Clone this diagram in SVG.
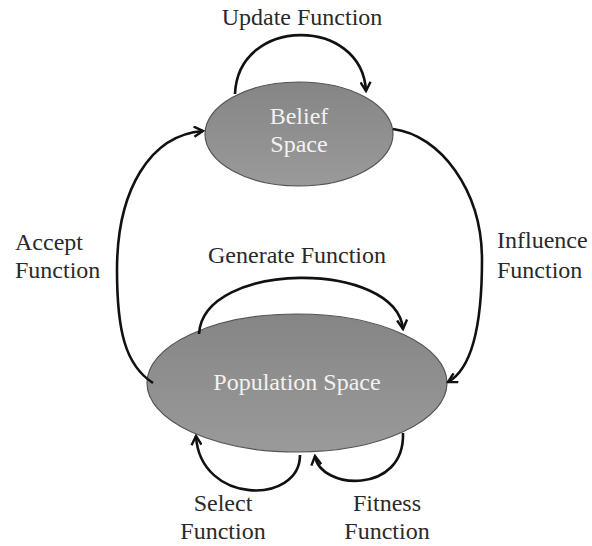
<svg xmlns="http://www.w3.org/2000/svg" width="592" height="546" viewBox="0 0 592 546">
<style>
.lbl{font-family:"Liberation Serif","Times New Roman",serif;font-size:24px;fill:#2a2a2a}
.in{font-family:"Liberation Serif","Times New Roman",serif;font-size:24px;fill:#f2f2f2;text-anchor:middle}
.node{fill:url(#g);stroke:#555;stroke-width:1.2}
.edge{fill:none;stroke:#111;stroke-width:2.6;marker-end:url(#ah)}
</style>
<defs>
<linearGradient id="g" x1="0" y1="0" x2="0" y2="1">
<stop offset="0" stop-color="#858585"/>
<stop offset="1" stop-color="#9a9a9a"/>
</linearGradient>
<marker id="ah" viewBox="0 0 12 12" refX="10" refY="6" markerWidth="12" markerHeight="12" markerUnits="userSpaceOnUse" orient="auto">
<path d="M1,1 L10,6 L1,11" fill="none" stroke="#111" stroke-width="2.4"/>
</marker>
</defs>
<rect width="592" height="546" fill="#fff"/>
<g id="belief">
<ellipse class="node" cx="299" cy="134" rx="94" ry="52"/>
<text class="in" x="299" y="124">Belief</text>
<text class="in" x="299" y="152">Space</text>
</g>
<g id="population">
<ellipse class="node" cx="297" cy="383" rx="150" ry="69"/>
<text class="in" x="297" y="390">Population Space</text>
</g>
<g id="connectors">
<path class="edge" d="M235,94 C238,16 362,16 366,91"/>
<path class="edge" d="M199,334 C203,260 396,260 403,329"/>
<path class="edge" d="M153,383 C125,365 117,330 117,270 C117,190 150,135 203,131"/>
<path class="edge" d="M393,129 C440,135 482,190 482,260 C482,330 470,370 448,382"/>
<path class="edge" d="M300,455 C300,505 200,505 196,436"/>
<path class="edge" d="M403,433 C405,495 320,490 315,456"/>
</g>
<g id="labels">
<text class="lbl" x="302" y="25" text-anchor="middle">Update Function</text>
<text class="lbl" x="297" y="263" text-anchor="middle">Generate Function</text>
<text class="lbl" x="15" y="250">Accept</text>
<text class="lbl" x="15" y="278">Function</text>
<text class="lbl" x="497" y="248">Influence</text>
<text class="lbl" x="497" y="278">Function</text>
<text class="lbl" x="223" y="511" text-anchor="middle">Select</text>
<text class="lbl" x="223" y="539" text-anchor="middle">Function</text>
<text class="lbl" x="387" y="511" text-anchor="middle">Fitness</text>
<text class="lbl" x="387" y="539" text-anchor="middle">Function</text>
</g>
</svg>
